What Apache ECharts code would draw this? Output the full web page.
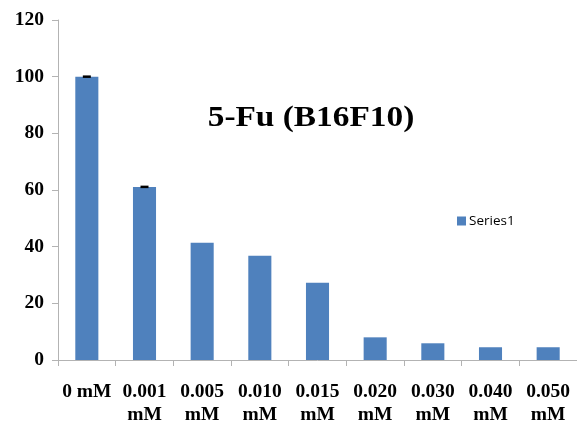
<!DOCTYPE html>
<html>
<head>
<meta charset="utf-8">
<script src="https://cdn.jsdelivr.net/npm/echarts@6/dist/echarts.min.js"></script>
<style>
  html, body { margin: 0; padding: 0; background: #fff; }
  #chart { width: 577px; height: 424px; }
</style>
</head>
<body>
<div id="chart"></div>
<script>
// Cell viability under 5-Fu treatment, by concentration
const categories = ['0 mM', '0.001\nmM', '0.005\nmM', '0.010\nmM', '0.015\nmM', '0.020\nmM', '0.030\nmM', '0.040\nmM', '0.050\nmM'];
const values = [100, 61.1, 41.4, 36.8, 27.3, 8.0, 5.9, 4.5, 4.5];
const errors = [0.3, 0.35, 0, 0, 0, 0, 0, 0, 0];
const yTicks = [0, 20, 40, 60, 80, 100, 120];
const seriesName = 'Series1';
const titleText = '5-Fu (B16F10)';

const serif = '"Liberation Serif", "Times New Roman", serif';
const axisGray = '#b3b3b3';

const chart = echarts.init(document.getElementById('chart'), null, { renderer: 'canvas' });

const errorData = values.map((v, i) => [i, v - errors[i], v + errors[i]]);

chart.setOption({
  animation: false,
  graphic: [
    {
      // chart title, drawn slightly widened
      type: 'text',
      x: 311,
      y: 119,
      scaleX: 1.15,
      style: {
        text: titleText,
        fontFamily: serif,
        fontWeight: 'bold',
        fontSize: 29,
        fill: '#000',
        align: 'center',
        verticalAlign: 'middle'
      }
    }
  ],
  legend: {
    data: [seriesName],
    left: 452,
    top: 209,
    icon: 'rect',
    itemWidth: 9,
    itemHeight: 9,
    itemGap: 5,
    textStyle: { fontFamily: '"Open Sans", sans-serif', fontSize: 13.5, color: '#000', padding: [0, 0, 0, -2] }
  },
  grid: { left: 58, right: 0, top: 20, bottom: 64, containLabel: false, outerBoundsMode: 'none' },
  xAxis: {
    type: 'category',
    data: categories,
    axisLine: { lineStyle: { color: axisGray, width: 1 } },
    axisTick: { show: true, length: 6, alignWithLabel: false, lineStyle: { color: axisGray } },
    axisLabel: {
      interval: 0,
      margin: 20,
      fontFamily: serif,
      fontWeight: 'bold',
      fontSize: 19.5,
      lineHeight: 23,
      color: '#000'
    },
    splitLine: { show: false }
  },
  yAxis: {
    type: 'value',
    min: yTicks[0],
    max: yTicks[yTicks.length - 1],
    interval: yTicks[1] - yTicks[0],
    axisLine: { show: true, lineStyle: { color: axisGray, width: 1 } },
    axisTick: { show: true, length: 6, inside: false, lineStyle: { color: axisGray } },
    axisLabel: {
      margin: 14,
      fontFamily: serif,
      fontWeight: 'bold',
      fontSize: 19.5,
      color: '#000'
    },
    splitLine: { show: false }
  },
  series: [
    {
      name: seriesName,
      type: 'bar',
      data: values,
      barWidth: '40%',
      itemStyle: { color: '#4f81bd' }
    },
    {
      // error bars drawn as short black caps on top of each bar
      name: 'error',
      type: 'custom',
      data: errorData,
      z: 10,
      renderItem: function (params, api) {
        const i = api.value(0);
        const err = api.value(2) - api.value(1);
        if (err <= 0) return null;
        const lo = api.coord([i, api.value(1)]);
        const hi = api.coord([i, api.value(2)]);
        const half = 4;
        const h = Math.max(2.5, lo[1] - hi[1]);
        return {
          type: 'rect',
          shape: { x: hi[0] - half, y: (lo[1] + hi[1]) / 2 - h / 2, width: half * 2, height: h },
          style: { fill: '#000' }
        };
      }
    }
  ]
});
</script>
</body>
</html>
